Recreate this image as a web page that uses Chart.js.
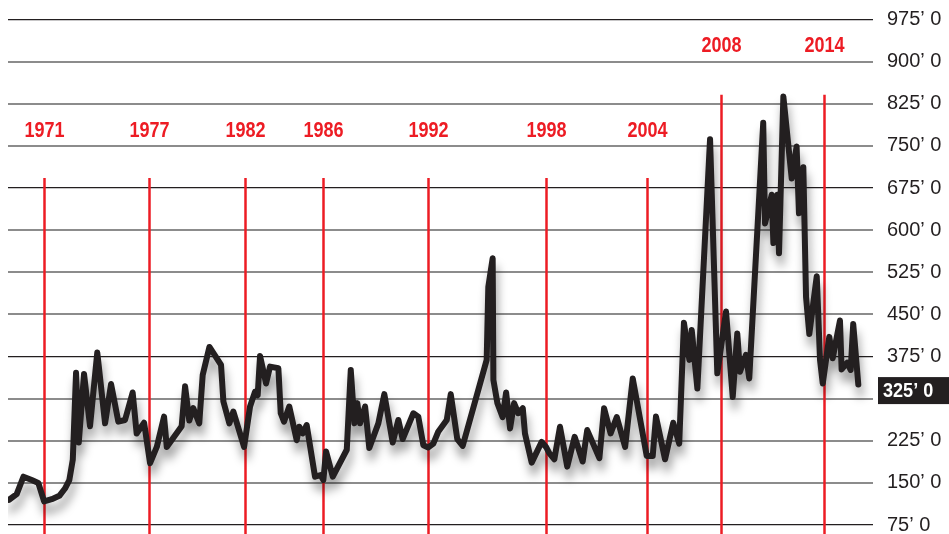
<!DOCTYPE html>
<html lang="en">
<head>
<meta charset="UTF-8">
<title>Price chart 1969-2015</title>
<script src="https://cdn.jsdelivr.net/npm/chart.js"></script>
<style>
  html, body { margin: 0; padding: 0; background: #fff; }
  .wrap { width: 949px; height: 534px; }
</style>
</head>
<body>
<div class="wrap"><canvas id="chart"></canvas></div>
<script>
// data (x in years, y in price units)
const years = [
  1969.09, 1969.51, 1969.88, 1970.34, 1970.70, 1971.02, 1971.44, 1971.86, 1972.17, 1972.41,
  1972.60, 1972.78, 1972.93, 1973.22, 1973.55, 1973.95, 1974.38, 1974.71, 1975.11, 1975.48,
  1975.90, 1976.12, 1976.53, 1976.86, 1977.23, 1977.63, 1977.78, 1978.60, 1978.79, 1979.02,
  1979.24, 1979.57, 1979.76, 1980.13, 1980.77, 1980.90, 1981.23, 1981.45, 1982.04, 1982.37,
  1982.64, 1982.79, 1982.92, 1983.25, 1983.47, 1983.93, 1984.06, 1984.24, 1984.53, 1984.94,
  1985.08, 1985.27, 1985.49, 1985.95, 1986.26, 1986.41, 1986.56, 1986.93, 1987.70, 1987.92,
  1988.12, 1988.28, 1988.43, 1988.71, 1988.94, 1989.44, 1989.77, 1990.23, 1990.54, 1990.78,
  1991.37, 1991.64, 1991.92, 1992.19, 1992.47, 1992.74, 1993.21, 1993.43, 1993.79, 1994.09,
  1995.41, 1995.50, 1995.74, 1995.78, 1996.00, 1996.29, 1996.48, 1996.70, 1996.92, 1997.15,
  1997.40, 1997.52, 1997.89, 1998.44, 1998.68, 1998.86, 1999.14, 1999.45, 1999.85, 2000.26,
  2000.70, 2000.95, 2001.62, 2001.88, 2002.24, 2002.58, 2003.04, 2003.46, 2004.23, 2004.56,
  2004.74, 2005.24, 2005.69, 2006.02, 2006.28, 2006.58, 2006.71, 2007.02, 2007.72, 2008.12,
  2008.60, 2008.97, 2009.22, 2009.37, 2009.70, 2009.88, 2010.65, 2010.75, 2011.12, 2011.21,
  2011.43, 2011.52, 2011.76, 2012.22, 2012.49, 2012.62, 2012.86, 2013.01, 2013.19, 2013.60,
  2013.78, 2013.93, 2014.29, 2014.48, 2014.88, 2014.97, 2015.28, 2015.47, 2015.61, 2015.89
];
const prices = [
  120, 130, 161, 155, 150, 117, 121, 127, 140, 155,
  191, 346, 222, 344, 251, 382, 256, 326, 259, 262,
  311, 238, 257, 185, 214, 268, 214, 251, 322, 261,
  283, 256, 342, 392, 360, 295, 256, 277, 214, 286,
  312, 306, 376, 327, 357, 354, 274, 259, 286, 226,
  250, 238, 253, 161, 164, 155, 206, 161, 209, 351,
  256, 292, 256, 286, 212, 256, 308, 222, 262, 228,
  274, 268, 217, 213, 220, 241, 262, 308, 228, 216,
  369, 499, 550, 333, 292, 267, 311, 247, 292, 274,
  283, 238, 186, 223, 214, 203, 192, 250, 179, 232,
  188, 244, 194, 283, 238, 267, 214, 336, 198, 198,
  268, 192, 257, 220, 435, 369, 422, 318, 762, 345,
  455, 303, 416, 348, 378, 336, 791, 612, 663, 577,
  663, 559, 838, 692, 749, 630, 712, 481, 415, 518,
  369, 327, 410, 372, 439, 352, 364, 351, 433, 325
];

// event markers: label text and where the picture puts them on the year axis
const eventLabels = ['1971', '1977', '1982', '1986', '1992', '1998', '2004', '2008', '2014'];
const eventYears = [1971.0, 1976.8, 1982.1, 1986.4, 1992.15, 1998.7, 2004.25, 2008.3, 2014.0];

const tickValues = [75, 150, 225, 300, 375, 450, 525, 600, 675, 750, 825, 900, 975];
const tickLabels = ['75’ 0', '150’ 0', '225’ 0', '300’ 0', '375’ 0', '450’ 0', '525’ 0',
                    '600’ 0', '675’ 0', '750’ 0', '825’ 0', '900’ 0', '975’ 0'];
const lastLabel = '325’ 0';

const INK = '#231f20';
const RED = '#ed1c24';
const SANS = "'Liberation Sans', Arial, sans-serif";

// condensed text: plain sans squeezed horizontally
function narrowText(ctx, text, x, y, sx) {
  ctx.save();
  ctx.translate(x, y);
  ctx.scale(sx, 1);
  ctx.fillText(text, 0, 0);
  ctx.restore();
}

// red vertical event lines with their year labels (drawn under the price line)
const eventPlugin = {
  id: 'events',
  beforeDatasetsDraw(chart) {
    const {ctx, chartArea, scales: {x, y}} = chart;
    ctx.save();
    eventLabels.forEach((lab, i) => {
      const high = (lab === '2008' || lab === '2014');
      const px = Math.round(x.getPixelForValue(eventYears[i])) + 0.5;
      const top = y.getPixelForValue(high ? 841 : 693);
      const ly = y.getPixelForValue(high ? 930 : 779);
      ctx.strokeStyle = RED;
      ctx.lineWidth = 2.5;
      ctx.beginPath();
      ctx.moveTo(px, top);
      ctx.lineTo(px, chartArea.bottom);
      ctx.stroke();
      ctx.fillStyle = RED;
      ctx.font = 'bold 22px ' + SANS;
      ctx.textAlign = 'center';
      ctx.textBaseline = 'middle';
      narrowText(ctx, lab, px, ly + 1, 0.82);
    });
    ctx.restore();
  }
};

// soft drop shadow under the price line
const shadowPlugin = {
  id: 'lineShadow',
  beforeDatasetDraw(chart) {
    const ctx = chart.ctx;
    ctx.save();
    ctx.shadowColor = 'rgba(0,0,0,0.38)';
    ctx.shadowBlur = 10;
    ctx.shadowOffsetX = 2;
    ctx.shadowOffsetY = 10;
  },
  afterDatasetDraw(chart) {
    chart.ctx.restore();
  }
};

// black box with the latest value on the right axis
const lastValuePlugin = {
  id: 'lastValue',
  afterDatasetsDraw(chart) {
    const {ctx, scales: {y}} = chart;
    const cy = y.getPixelForValue(prices[prices.length - 1]) + 6;
    const left = y.left + 5;
    ctx.save();
    ctx.fillStyle = INK;
    ctx.fillRect(left, cy - 13.5, chart.width - left, 27);
    ctx.fillStyle = '#fff';
    ctx.font = 'bold 21px ' + SANS;
    ctx.textAlign = 'left';
    ctx.textBaseline = 'middle';
    narrowText(ctx, lastLabel, left + 5, cy + 1, 0.86);
    ctx.restore();
  }
};

new Chart(document.getElementById('chart'), {
  type: 'line',
  data: {
    datasets: [{
      data: years.map((yr, i) => ({x: yr, y: prices[i]})),
      borderColor: INK,
      borderWidth: 6,
      borderJoinStyle: 'round',
      borderCapStyle: 'round',
      pointRadius: 0,
      tension: 0,
      fill: false
    }]
  },
  options: {
    responsive: true,
    maintainAspectRatio: false,
    animation: false,
    layout: { padding: { left: 8, top: 0, right: 0, bottom: 0 } },
    plugins: { legend: { display: false }, tooltip: { enabled: false } },
    scales: {
      x: {
        type: 'linear',
        display: false,
        min: 1969.03,
        max: 2016.7
      },
      y: {
        position: 'right',
        min: 59,
        max: 1009.7,
        afterBuildTicks: (scale) => {
          scale.ticks = tickValues.map(v => ({value: v}));
        },
        afterFit: (scale) => {
          scale.width = 76;
          scale.paddingTop = 0;
          scale.paddingBottom = 0;
        },
        border: { display: false },
        grid: {
          drawTicks: false,
          color: (c) => (c.tick && c.tick.value % 300 === 75) ? INK : '#8c8c8c',
          lineWidth: (c) => (c.tick && c.tick.value % 300 === 75) ? 1.3 : 2
        },
        ticks: {
          autoSkip: false,
          padding: 14,
          color: INK,
          font: { family: SANS, size: 20 },
          callback: (v) => tickLabels[tickValues.indexOf(v)]
        }
      }
    }
  },
  plugins: [eventPlugin, shadowPlugin, lastValuePlugin]
});
</script>
</body>
</html>
